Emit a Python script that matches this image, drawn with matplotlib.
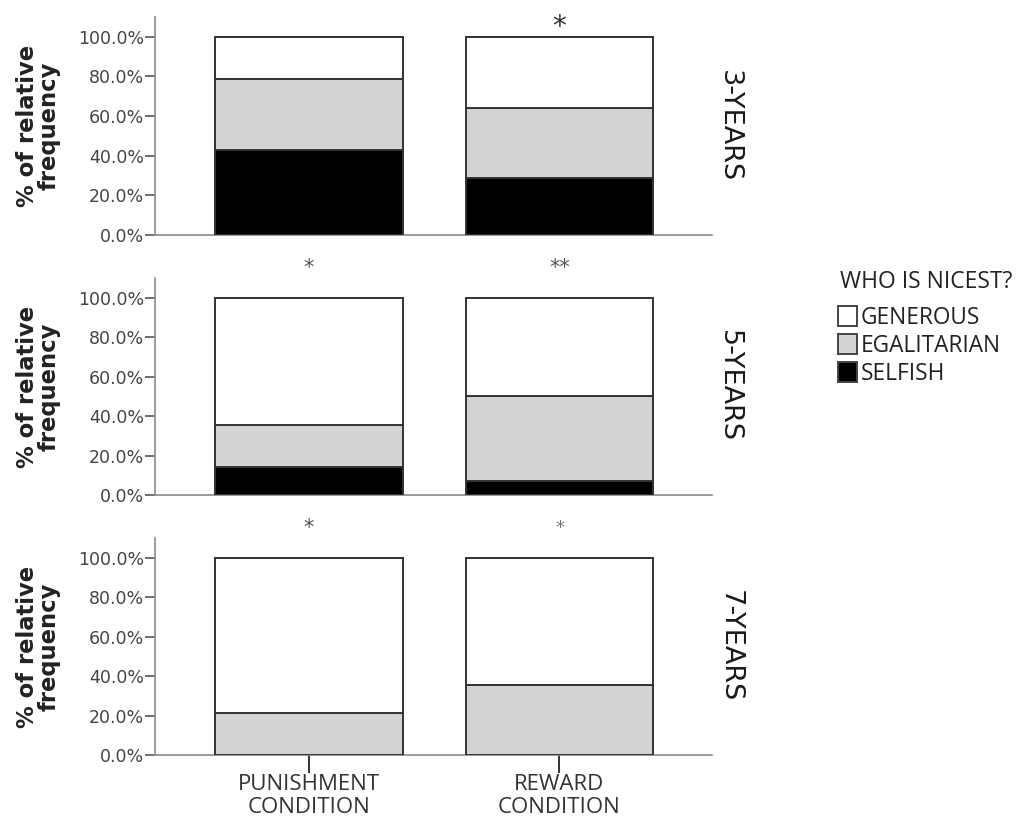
import matplotlib
matplotlib.use("Agg")
import matplotlib.pyplot as plt
from matplotlib.patches import Patch

# Relative frequency (%) of each choice, per age group and condition
conditions = ["PUNISHMENT\nCONDITION", "REWARD\nCONDITION"]
age_groups = ["3-YEARS", "5-YEARS", "7-YEARS"]
categories = ["GENEROUS", "EGALITARIAN", "SELFISH"]

selfish = [[42.9, 28.6], [14.3, 7.1], [0.0, 0.0]]
egalitarian = [[35.7, 35.7], [21.4, 42.9], [21.4, 35.7]]
generous = [[21.4, 35.7], [64.3, 50.0], [78.6, 64.3]]

# Significance marks above bars: (age index, condition index, text, size, colour, y)
sig_marks = [
    (0, 1, "*", 20, "#333333", 105),
    (1, 0, "*", 15, "#555555", 115),
    (1, 1, "**", 15, "#555555", 115),
    (2, 0, "*", 15, "#555555", 115),
    (2, 1, "*", 13, "#777777", 115),
]

colors = {"SELFISH": "#000000", "EGALITARIAN": "#d3d3d3", "GENEROUS": "#ffffff"}
edge = "#333333"
spine_col = "#8a8a8a"

W, H = 1020, 819
fig = plt.figure(figsize=(W / 100, H / 100), dpi=100)

x_left, x_right = 155, 712
panels_px = [(17, 235), (278, 495), (538, 755)]

x = [0, 1]
bar_w = 0.75
axes = []
for i, (top, bottom) in enumerate(panels_px):
    ax = fig.add_axes([x_left / W, 1 - bottom / H, (x_right - x_left) / W, (bottom - top) / H])
    axes.append(ax)
    s = selfish[i]
    e = egalitarian[i]
    g = generous[i]
    base_e = s
    base_g = [a + b for a, b in zip(s, e)]
    ax.bar(x, s, width=bar_w, color=colors["SELFISH"], edgecolor=edge, linewidth=1.4, zorder=3)
    ax.bar(x, e, width=bar_w, bottom=base_e, color=colors["EGALITARIAN"], edgecolor=edge, linewidth=1.4, zorder=3)
    ax.bar(x, g, width=bar_w, bottom=base_g, color=colors["GENEROUS"], edgecolor=edge, linewidth=1.4, zorder=3)

    ax.set_xlim(-0.615, 1.609)
    ax.set_ylim(0, 110)
    ax.set_yticks([0, 20, 40, 60, 80, 100])
    ax.set_yticklabels([f"{v:.1f}%" for v in [0, 20, 40, 60, 80, 100]],
                       fontsize=12.5, color="#444444", family="DejaVu Sans")
    ax.tick_params(axis="y", direction="out", length=7, width=1.2, color="#555555", pad=1)
    for sp in ["top", "right"]:
        ax.spines[sp].set_visible(False)
    ax.spines["left"].set_color(spine_col)
    ax.spines["bottom"].set_color(spine_col)
    ax.spines["left"].set_linewidth(1.2)
    ax.spines["bottom"].set_linewidth(1.2)

    ax.text(-0.21, 0.5, "% of relative\nfrequency", transform=ax.transAxes,
            rotation=90, ha="center", va="center", fontsize=16.3, fontweight="bold",
            color="#222222", family="DejaVu Sans", linespacing=0.92)

    ax.text(1.031, 0.5, age_groups[i], transform=ax.transAxes, rotation=-90,
            ha="center", va="center", fontsize=19.5, color="#1a1a1a",
            family="DejaVu Sans")

    if i < 2:
        ax.set_xticks([])
    else:
        ax.set_xticks(x)
        ax.set_xticklabels(conditions, fontsize=16, color="#333333",
                           family="Open Sans", linespacing=1.15)
        ax.tick_params(axis="x", direction="out", length=13, width=1.4,
                       color="#333333", pad=0.5)

for (ai, ci, txt, size, col, yv) in sig_marks:
    axes[ai].text(x[ci], yv, txt, ha="center", va="center", fontsize=size,
                  color=col, family="DejaVu Sans", clip_on=False)

# Legend: title drawn as figure text, entries as a legend just below
fig.text(840 / W, 1 - 282 / H, "WHO IS NICEST?", ha="left", va="center",
         fontsize=16.5, family="Open Sans", color="#222222")
handles = [Patch(facecolor=colors[c], edgecolor="#444444", linewidth=1.4, label=c)
           for c in categories]
leg = fig.legend(handles=handles, loc="upper left",
                 bbox_to_anchor=(838 / W, 1 - 306 / H), frameon=False,
                 prop={"family": "Open Sans", "size": 16.3},
                 handlelength=0.85, handleheight=1.0, handletextpad=0.15,
                 labelspacing=0.17, borderaxespad=0, borderpad=0)
for t in leg.get_texts():
    t.set_color("#222222")

fig.savefig("out.png", dpi=100, facecolor="white")
